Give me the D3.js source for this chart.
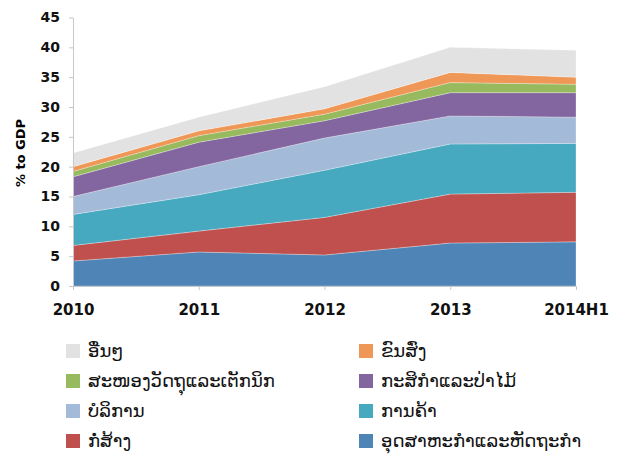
<!DOCTYPE html>
<html>
  <head>
    <meta charset="utf-8">
    <title>% to GDP stacked area</title>
    <script src="https://d3js.org/d3.v7.min.js"></script>
    <style>
      body { margin: 0; background: #fff; }
      .axis text { font-family: "DejaVu Sans", sans-serif; font-weight: bold; fill: #111; }
      .axis path, .axis line { stroke: #c8c8c8; }
      .legend text { font-family: "DejaVu Sans", "Noto Sans", sans-serif; font-size: 18px; fill: #111; }
    </style>
  </head>
  <body>
    <svg width="621" height="456"></svg>
    <script>
      // periods on the x axis
      var categories = ["2010", "2011", "2012", "2013", "2014H1"];

      // series, bottom to top (values in % of GDP)
      var industry     = [4.2, 5.7, 5.2, 7.2, 7.4];
      var construction = [2.6, 3.5, 6.3, 8.2, 8.3];
      var trade        = [5.2, 6.1, 7.9, 8.4, 8.2];
      var service      = [3.0, 4.7, 5.4, 4.7, 4.4];
      var agriculture  = [3.3, 4.1, 2.9, 3.9, 4.1];
      var supply       = [0.9, 1.1, 1.1, 1.7, 1.4];
      var transport    = [0.8, 0.8, 0.9, 1.7, 1.2];
      var other        = [2.3, 2.3, 3.7, 4.2, 4.5];

      var keys   = ["industry", "construction", "trade", "service", "agriculture", "supply", "transport", "other"];
      var labels = ["ອຸດສາຫະກຳແລະຫັດຖະກຳ", "ກໍ່ສ້າງ", "ການຄ້າ", "ບໍລິການ", "ກະສິກຳແລະປ່າໄມ້", "ສະໜອງວັດຖຸແລະເຕັກນິກ", "ຂົນສົ່ງ", "ອື່ນໆ"];
      var colors = ["#4f84b6", "#c0504d", "#46a9bf", "#a3bad8", "#8366a0", "#98ba5f", "#ef9756", "#e2e2e2"];
      var yTicks = [0, 5, 10, 15, 20, 25, 30, 35, 40, 45];

      var series = [industry, construction, trade, service, agriculture, supply, transport, other];
      var rows = categories.map(function(c, i) {
        var r = {cat: c};
        keys.forEach(function(k, j) { r[k] = series[j][i]; });
        return r;
      });

      var svg = d3.select("svg");

      var x = d3.scalePoint().domain(categories).range([73, 576]);
      var y = d3.scaleLinear().domain([0, 45]).range([286, 17.5]);

      var stack = d3.stack().keys(keys)(rows);

      var area = d3.area()
          .x(function(d) { return x(d.data.cat); })
          .y0(function(d) { return y(d[0]); })
          .y1(function(d) { return y(d[1]); });

      svg.append("g").selectAll("path")
          .data(stack)
          .enter().append("path")
          .attr("d", area)
          .attr("fill", function(d, i) { return colors[i]; })
          .attr("stroke", "rgba(255,255,255,0.35)")
          .attr("stroke-width", 0.8);

      var yAxis = svg.append("g")
          .attr("class", "axis")
          .attr("transform", "translate(73,0)")
          .call(d3.axisLeft(y).tickValues(yTicks).tickSize(4).tickPadding(9).tickSizeOuter(0));
      yAxis.selectAll("text").style("font-size", "14px");

      var xAxis = svg.append("g")
          .attr("class", "axis")
          .attr("transform", "translate(0,286)")
          .call(d3.axisBottom(x).tickSize(4).tickPadding(14).tickSizeOuter(0));
      xAxis.selectAll("text").style("font-size", "15px");

      svg.append("text")
          .attr("transform", "translate(25,153) rotate(-90)")
          .attr("text-anchor", "middle")
          .style("font-family", "DejaVu Sans, sans-serif")
          .style("font-weight", "bold")
          .style("font-size", "13px")
          .text("% to GDP");

      // legend: top series first, two columns
      var order = d3.range(keys.length).reverse();
      var legend = svg.append("g").attr("class", "legend")
          .selectAll("g")
          .data(order)
          .enter().append("g")
          .attr("transform", function(d, i) {
            return "translate(" + (i % 2 ? 359 : 66) + "," + (351 + Math.floor(i / 2) * 30) + ")";
          });

      legend.append("rect")
          .attr("y", -7)
          .attr("width", 14)
          .attr("height", 14)
          .attr("fill", function(d) { return colors[d]; });

      legend.append("text")
          .attr("x", 22)
          .attr("dy", "0.35em")
          .text(function(d) { return labels[d]; });
    </script>
  </body>
</html>
